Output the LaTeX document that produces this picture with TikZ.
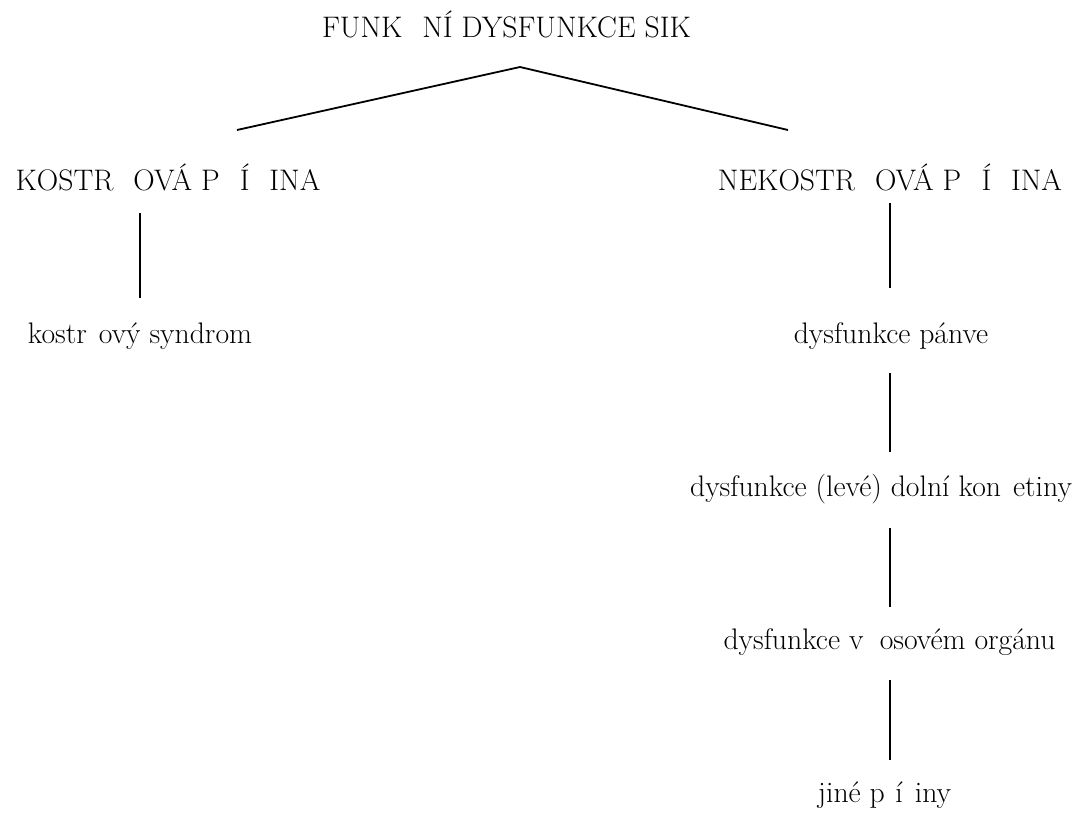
\documentclass[tikz,border=0pt]{standalone}
\usepackage{fontspec}
\begin{document}
\begin{tikzpicture}[x=1pt, y=-1pt]
            \tikzstyle{txt}=[anchor=base, inner sep=0pt, text height=22pt, text depth=7pt, font=\fontsize{29.7}{36}\selectfont]
            \tikzstyle{link}=[line width=1.8pt]

            \useasboundingbox (0,0) rectangle (1088,812);

            \node[txt] (T) at (506.5,37) {FUNK\hphantom{Č}NÍ DYSFUNKCE SIK};
            \node[txt] (K) at (168,190) {KOSTR\hphantom{Č}OVÁ P\hphantom{Ř}Í\hphantom{Č}INA};
            \node[txt] (N) at (890,190) {NEKOSTR\hphantom{Č}OVÁ P\hphantom{Ř}Í\hphantom{Č}INA};
            \node[txt] (KS) at (140,343) {kostr\hphantom{č}ový syndrom};
            \node[txt] (P) at (891,343) {dysfunkce pánve};
            \node[txt] (DK) at (881,496) {dysfunkce (levé) dolní kon\hphantom{č}etiny};
            \node[txt] (O) at (889.5,649) {dysfunkce v\hspace{0.55em}osovém orgánu};
            \node[txt] (J) at (884.5,802) {jiné p\hphantom{ř}í\hphantom{č}iny};

            \coordinate (apex) at (520,67);
            \coordinate (lend) at (237,130);
            \coordinate (rend) at (788,130);
            \coordinate (axis) at (890,0);

            \draw[link] (apex) -- (lend);
            \draw[link] (apex) -- (rend);
            \draw[link, shorten <=16pt, shorten >=23pt] (K.south -| KS) -- (KS.north);
            \draw[link, shorten <=6pt, shorten >=33pt] (N.south -| axis) -- (P.north -| axis);
            \draw[link, shorten <=23pt, shorten >=22pt] (P.south -| axis) -- (DK.north -| axis);
            \draw[link, shorten <=25pt, shorten >=20pt] (DK.south -| axis) -- (O.north -| axis);
            \draw[link, shorten <=24pt, shorten >=20pt] (O.south -| axis) -- (J.north -| axis);
        \end{tikzpicture}
\end{document}
